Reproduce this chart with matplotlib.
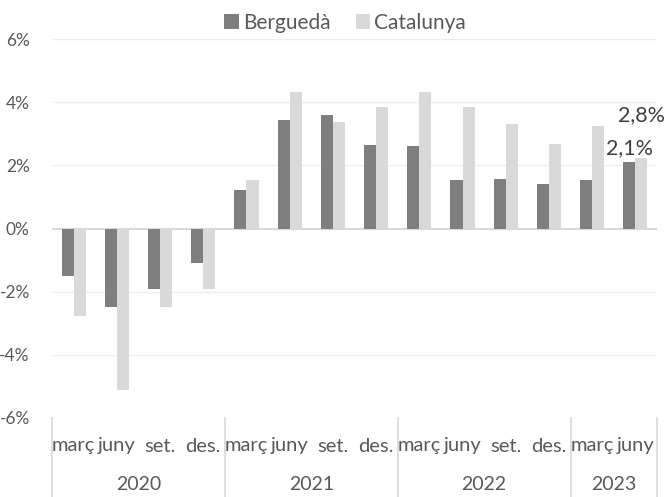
import matplotlib
matplotlib.use("Agg")
import matplotlib.pyplot as plt
import numpy as np

plt.rcParams['font.family'] = ['Lato', 'DejaVu Sans']

months = ["març", "juny", "set.", "des."] * 3 + ["març", "juny"]
years = ["2020", "2021", "2022", "2023"]
year_counts = [4, 4, 4, 2]
bergueda = [-1.5, -2.47, -1.9, -1.1, 1.23, 3.45, 3.6, 2.65, 2.6, 1.55, 1.58, 1.42, 1.52, 2.1]
catalunya = [-2.78, -5.1, -2.5, -1.9, 1.52, 4.33, 3.38, 3.86, 4.33, 3.86, 3.3, 2.69, 3.26, 2.8]
yticks = [-6, -4, -2, 0, 2, 4, 6]

c_dark = "#7f7f7f"
c_light = "#d9d9d9"
txt = "#595959"

W, H = 665, 497
fig = plt.figure(figsize=(W/100, H/100), dpi=100)
ax = fig.add_axes([52/W, (H-418)/H, (657-52)/W, (418-39)/H])

x = np.arange(len(months))
bw = 0.28
ax.bar(x - bw/2, bergueda, bw, color=c_dark, label="Berguedà", zorder=3)
ax.bar(x + bw/2, catalunya, bw, color=c_light, label="Catalunya", zorder=3)

ax.set_xlim(-0.5, len(months) - 0.5)
ax.set_ylim(-6, 6)
ax.set_yticks(yticks)
ax.set_yticklabels([f"{v}%" for v in yticks], color=txt, fontsize=12.5)
ax.tick_params(axis='y', length=0, pad=16)
ax.tick_params(axis='x', length=0, labelbottom=False)
for v in yticks:
    ax.axhline(v, color="#efefef" if v != 0 else c_light, lw=1 if v != 0 else 1.5, zorder=1)
for s in ax.spines.values():
    s.set_visible(False)
ax.set_xticks([])

# data labels for last point
ax.text(x[-1] - bw/2, bergueda[-1] + 0.46, "2,1%", ha="center", va="center", fontsize=15.5,
        color="#404040", zorder=5, bbox=dict(facecolor="white", edgecolor="none", pad=0))
ax.text(x[-1] + bw/2, catalunya[-1] + 0.78, "2,8%", ha="center", va="center", fontsize=15.5,
        color="#404040", zorder=5, clip_on=False)

# multi-level category axis
trans = ax.get_xaxis_transform()
axh = 418 - 39
for i, m in enumerate(months):
    ax.text(x[i], -(446 - 418) / axh, m, transform=trans, ha="center", va="center",
            fontsize=14.5, color=txt, clip_on=False)
start = 0
bounds = [-0.5]
for y, n in zip(years, year_counts):
    ax.text(start + (n - 1) / 2, -(485 - 418) / axh, y, transform=trans, ha="center", va="center",
            fontsize=14, color=txt, clip_on=False)
    start += n
    bounds.append(start - 0.5)
for b in bounds:
    ax.plot([b, b], [0, -(H - 418) / axh], transform=trans, color=c_light, lw=1.2, clip_on=False)

fig.legend(loc="upper center", bbox_to_anchor=(0.519, 1.012), ncol=2, frameon=False,
           fontsize=15, handlelength=0.7, handleheight=0.7, handletextpad=0.2,
           columnspacing=1.2, labelcolor=txt)

fig.savefig("out.png", dpi=100)
